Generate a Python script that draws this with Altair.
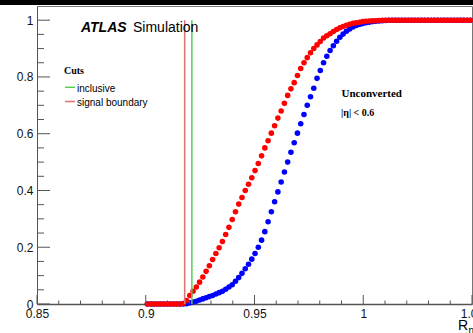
import altair as alt
import pandas as pd

# ---------------- data ----------------
BIN_LO = 0.9
BIN_W = 0.0015

red_eff = [0, 0, 0, 0, 0, 0, 0, 0, 0, 0, 0,
           0.002, 0.012, 0.03, 0.045, 0.06, 0.077, 0.095, 0.115, 0.135, 0.157,
           0.178, 0.198, 0.22, 0.245, 0.27, 0.298, 0.325, 0.352, 0.375, 0.4,
           0.422, 0.445, 0.47, 0.495, 0.522, 0.55, 0.575, 0.602, 0.628, 0.655,
           0.68, 0.707, 0.735, 0.758, 0.78, 0.805, 0.83, 0.85, 0.868, 0.885,
           0.9, 0.913, 0.925, 0.937, 0.945, 0.952, 0.96, 0.967, 0.973, 0.978,
           0.982, 0.986, 0.989, 0.991, 0.993, 0.995, 0.996, 0.997, 0.998, 0.998,
           0.999,
           1, 1, 1, 1, 1, 1, 1, 1, 1, 1, 1, 1, 1, 1, 1, 1, 1, 1, 1, 1,
           1, 1, 1, 1, 1, 1, 1, 1]

blue_eff = [0, 0, 0, 0, 0, 0, 0, 0, 0, 0, 0, 0,
            0.001, 0.004, 0.007, 0.01, 0.014, 0.018, 0.022, 0.026, 0.03,
            0.035, 0.04, 0.045, 0.052, 0.06, 0.068, 0.08, 0.093, 0.108, 0.124,
            0.14, 0.158, 0.178, 0.2, 0.225, 0.255, 0.29, 0.325, 0.36, 0.395,
            0.43, 0.465, 0.5, 0.535, 0.568, 0.602, 0.635, 0.668, 0.7, 0.73,
            0.76, 0.795, 0.823, 0.85, 0.873, 0.893, 0.91, 0.926, 0.94, 0.951,
            0.961, 0.969, 0.976, 0.981, 0.985, 0.988, 0.991, 0.993, 0.995, 0.996,
            0.997, 0.998, 0.999,
            1, 1, 1, 1, 1, 1, 1, 1, 1, 1, 1, 1, 1, 1, 1, 1, 1, 1, 1, 1,
            1, 1, 1, 1, 1, 1]

cut_names = ["inclusive", "signal boundary"]
cut_x = [0.9212, 0.9179]
cut_colors = ["#4fd14f", "#e07272"]

x_major = [0.85, 0.9, 0.95, 1.0, 1.05]
x_minor = [0.86, 0.87, 0.88, 0.89, 0.91, 0.92, 0.93, 0.94, 0.96, 0.97,
           0.98, 0.99, 1.01, 1.02, 1.03, 1.04]
y_major = [0, 0.2, 0.4, 0.6, 0.8, 1.0]
y_minor = [0.05, 0.1, 0.15, 0.25, 0.3, 0.35, 0.45, 0.5, 0.55, 0.65, 0.7,
           0.75, 0.85, 0.9, 0.95]

# ---------------- layout ----------------
W, H = 435, 298
PAD = {"left": 37, "top": 6, "right": 1, "bottom": 29}

xs = alt.Scale(domain=[0.85, 1.05], nice=False, zero=False)
ys = alt.Scale(domain=[0, 1.05], nice=False, zero=False)

x_axis = alt.Axis(values=x_major, format="~g", ticks=False, tickSize=0,
                  domain=True, domainColor="#555", domainWidth=1.5, grid=False,
                  labelFont="Liberation Sans", labelFontSize=12, labelColor="#111",
                  labelPadding=4, labelFlush=False, labelOverlap=False,
                  labelBound=False, title=None)
y_axis = alt.Axis(values=y_major, format="~g", ticks=False, tickSize=0,
                  domain=True, domainColor="#555", domainWidth=1, grid=False,
                  labelFont="Liberation Sans", labelFontSize=12, labelColor="#111",
                  labelPadding=4, labelFlush=False, labelOverlap=False,
                  labelBound=False, title=None)

n = len(red_eff)
centers = [BIN_LO + BIN_W * (i + 0.5) for i in range(n)]
df_red = pd.DataFrame({"x": centers, "y": red_eff})
df_blue = pd.DataFrame({"x": centers, "y": blue_eff})


def pts(df, color):
    return alt.Chart(df).mark_circle(size=31, color=color, opacity=1).encode(
        x=alt.X("x:Q", scale=xs, axis=x_axis),
        y=alt.Y("y:Q", scale=ys, axis=y_axis),
    )


blue = pts(df_blue, "#0000ff")
red = pts(df_red, "#ff0000")

df_cut = pd.DataFrame({"name": cut_names, "x": cut_x, "c": cut_colors,
                       "y0": [0, 0], "y1": [1.0, 1.0]})
cuts = alt.Chart(df_cut).mark_rule(strokeWidth=1.5).encode(
    x=alt.X("x:Q", scale=xs, axis=x_axis),
    y=alt.Y("y0:Q", scale=ys, axis=y_axis),
    y2="y1:Q",
    color=alt.Color("c:N", scale=None),
)

# inward ticks
ytick_major = alt.Chart(pd.DataFrame({"v": y_major})).mark_rule(
    color="#555", strokeWidth=1).encode(
    y=alt.Y("v:Q", scale=ys, axis=y_axis), x=alt.value(0), x2=alt.value(13))
ytick_minor = alt.Chart(pd.DataFrame({"v": y_minor})).mark_rule(
    color="#555", strokeWidth=1).encode(
    y=alt.Y("v:Q", scale=ys, axis=y_axis), x=alt.value(0), x2=alt.value(7))
xtick_major = alt.Chart(pd.DataFrame({"v": x_major})).mark_rule(
    color="#555", strokeWidth=1).encode(
    x=alt.X("v:Q", scale=xs, axis=x_axis), y=alt.value(H), y2=alt.value(H - 9))
xtick_minor = alt.Chart(pd.DataFrame({"v": x_minor})).mark_rule(
    color="#555", strokeWidth=1).encode(
    x=alt.X("v:Q", scale=xs, axis=x_axis), y=alt.value(H), y2=alt.value(H - 3.5))


def label(text, x, y, size, font="Liberation Sans", weight="normal",
          style="normal", align="left", color="#000"):
    return alt.Chart(pd.DataFrame({"t": [text]})).mark_text(
        font=font, fontSize=size, fontWeight=weight, fontStyle=style,
        align=align, baseline="alphabetic", color=color,
    ).encode(text="t:N", x=alt.value(x), y=alt.value(y))


def swatch(color, x1, x2, y):
    return alt.Chart(pd.DataFrame({"a": [0]})).mark_rule(
        color=color, strokeWidth=1.5).encode(
        x=alt.value(x1), x2=alt.value(x2), y=alt.value(y))


texts = [
    label("ATLAS", 44, 26, 14, weight="bold", style="italic"),
    label("Simulation", 96, 26, 14),
    label("Cuts", 27, 68, 10, font="Liberation Serif", weight="bold"),
    label("inclusive", 40, 85.5, 10),
    label("signal boundary", 40, 100, 10),
    label("Unconverted", 304.5, 90.5, 11, font="Liberation Serif", weight="bold"),
    label("|η| < 0.6", 304, 109.5, 10, font="Liberation Serif", weight="bold"),
    label("R", 431, 324, 14, align="right"),
    label("η", 431.5, 327.5, 10),
]
swatches = [
    swatch(cut_colors[0], 28, 38, 81.3),
    swatch(cut_colors[1], 28, 38, 95.5),
]

topbar = alt.Chart(pd.DataFrame({"a": [0]})).mark_rule(
    color="#000", strokeWidth=5).encode(
    x=alt.value(-40), x2=alt.value(440), y=alt.value(-3.5))

chart = alt.layer(
    blue, red, cuts, ytick_major, ytick_minor, xtick_major, xtick_minor,
    *swatches, *texts, topbar,
).properties(
    width=W, height=H, padding=PAD,
    autosize=alt.AutoSizeParams(type="none"),
    background="white",
).configure_view(stroke="#777", strokeWidth=1)

chart.save("out.html", embed_options={"renderer": "svg", "actions": False})
